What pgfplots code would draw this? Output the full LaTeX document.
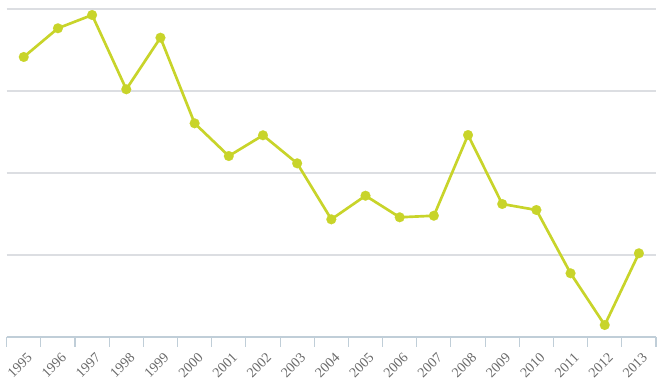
\documentclass[border=0pt]{standalone}
\usepackage{pgfplots}
\pgfplotsset{compat=1.18}
\usepackage{fontspec}
\setmainfont{Liberation Serif}
\definecolor{lime}{RGB}{200,212,42}
\definecolor{gridc}{RGB}{220,222,226}
\definecolor{axisc}{RGB}{192,206,216}
\definecolor{labc}{RGB}{105,105,105}
\begin{document}
\begin{tikzpicture}[x=1pt,y=1pt]
\begin{axis}[
  at={(0pt,0pt)}, anchor=south west,
  scale only axis, width=487pt, height=246pt,
  xmin=-0.5, xmax=18.5, ymin=0, ymax=40,
  axis lines*=left,
  x axis line style={axisc, line width=0.9pt},
  y axis line style={draw=none},
  ytick={0,10,20,30,40}, yticklabels={},
  major y tick style={draw=none},
  ymajorgrids, grid style={gridc, line width=0.8pt},
  xtick={0,...,18},
  xticklabels={1995,1996,1997,1998,1999,2000,2001,2002,2003,2004,2005,2006,2007,2008,2009,2010,2011,2012,2013},
  major x tick style={draw=none},
  minor xtick={-0.5,0.5,...,18.5},
  minor tick length=7.5pt,
  tick align=outside,
  minor x tick style={axisc, line width=0.8pt},
  xticklabel style={rotate=45, anchor=east, font=\fontsize{10.5}{12}\selectfont, text=labc, inner sep=0pt, yshift=-10pt, xshift=-3.5pt},
  clip=false,
]
\addplot[lime, line width=2pt, mark=*, mark size=3.7pt, mark options={fill=lime, draw=lime, line width=0.1pt}]
coordinates {
(0,34.15) (1,37.65) (2,39.27) (3,30.21) (4,36.50) (5,26.06) (6,22.07) (7,24.60) (8,21.18) (9,14.35)
(10,17.23) (11,14.60) (12,14.79) (13,24.63) (14,16.22) (15,15.49) (16,7.77) (17,1.46) (18,10.21)
};
\end{axis}
\pgfresetboundingbox
\path[use as bounding box] (-5.0pt,-36pt) rectangle (490.75pt,252.75pt);
\end{tikzpicture}
\end{document}
